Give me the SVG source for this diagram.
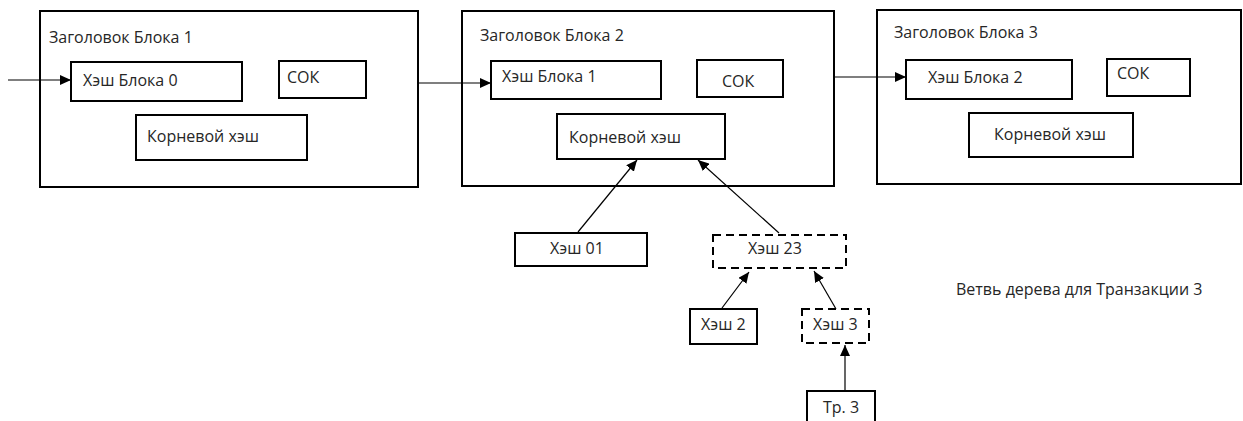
<svg xmlns="http://www.w3.org/2000/svg" width="1243" height="421" viewBox="0 0 1243 421">
<defs>
<marker id="ah" markerUnits="userSpaceOnUse" markerWidth="12" markerHeight="10" refX="11" refY="5" orient="auto">
<path d="M0,0 L11,5 L0,10 Z" fill="#000"/>
</marker>
<style>
.box{fill:#fff;stroke:#000;stroke-width:2}
.dash{fill:#fff;stroke:#000;stroke-width:2;stroke-dasharray:8 5}
.t{font-family:"Open Sans","Noto Sans","DejaVu Sans",sans-serif;font-size:16px;fill:#262626}
.c{stroke:#000;stroke-width:1.2;fill:none;marker-end:url(#ah)}
</style>
</defs>
<rect width="1243" height="421" fill="#fff"/>
<g id="block1">
<rect class="box" x="40" y="11" width="378" height="176"/>
<text class="t" x="49" y="43">Заголовок Блока 1</text>
<rect class="box" x="71" y="62" width="171" height="39"/>
<text class="t" x="83" y="86">Хэш Блока 0</text>
<rect class="box" x="279" y="61" width="87" height="37"/>
<text class="t" x="287" y="83">СОК</text>
<rect class="box" x="136" y="115" width="171" height="45"/>
<text class="t" x="147" y="142">Корневой хэш</text>
</g>
<g id="block2">
<rect class="box" x="462" y="11" width="372" height="175"/>
<text class="t" x="480" y="41">Заголовок Блока 2</text>
<rect class="box" x="491" y="61" width="170" height="38"/>
<text class="t" x="502" y="82">Хэш Блока 1</text>
<rect class="box" x="697" y="60" width="86" height="37"/>
<text class="t" x="722" y="87">СОК</text>
<rect class="box" x="557" y="114" width="168" height="45"/>
<text class="t" x="569" y="143">Корневой хэш</text>
</g>
<g id="block3">
<rect class="box" x="877" y="10" width="364" height="174"/>
<text class="t" x="894" y="38">Заголовок Блока 3</text>
<rect class="box" x="906" y="60" width="166" height="39"/>
<text class="t" x="928" y="83">Хэш Блока 2</text>
<rect class="box" x="1107" y="59" width="83" height="37"/>
<text class="t" x="1117" y="79">СОК</text>
<rect class="box" x="969" y="113" width="164" height="44"/>
<text class="t" x="994" y="140">Корневой хэш</text>
</g>
<g id="hash01">
<rect class="box" x="515" y="233" width="132" height="33"/>
<text class="t" x="550" y="254">Хэш 01</text>
</g>
<g id="hash23">
<rect class="dash" x="713" y="235" width="133" height="33"/>
<text class="t" x="748" y="254">Хэш 23</text>
</g>
<g id="hash2">
<rect class="box" x="690" y="309" width="67" height="35"/>
<text class="t" x="701" y="330">Хэш 2</text>
</g>
<g id="hash3">
<rect class="dash" x="802" y="309" width="67" height="34"/>
<text class="t" x="813" y="330">Хэш 3</text>
</g>
<g id="tx3">
<rect class="box" x="807" y="391" width="68" height="40"/>
<text class="t" x="823" y="413">Тр. 3</text>
</g>
<g id="label">
<text class="t" x="956" y="295">Ветвь дерева для Транзакции 3</text>
</g>
<g id="connectors">
<line class="c" x1="8" y1="80" x2="71" y2="80"/>
<line class="c" x1="418" y1="83" x2="491" y2="83"/>
<line class="c" x1="834" y1="77" x2="906" y2="77"/>
<line class="c" x1="578" y1="232" x2="637" y2="160"/>
<line class="c" x1="779" y1="233" x2="698" y2="160"/>
<line class="c" x1="722" y1="308" x2="749" y2="272"/>
<line class="c" x1="836" y1="309" x2="814" y2="271"/>
<line class="c" x1="845" y1="390" x2="845" y2="345"/>
</g>
</svg>
